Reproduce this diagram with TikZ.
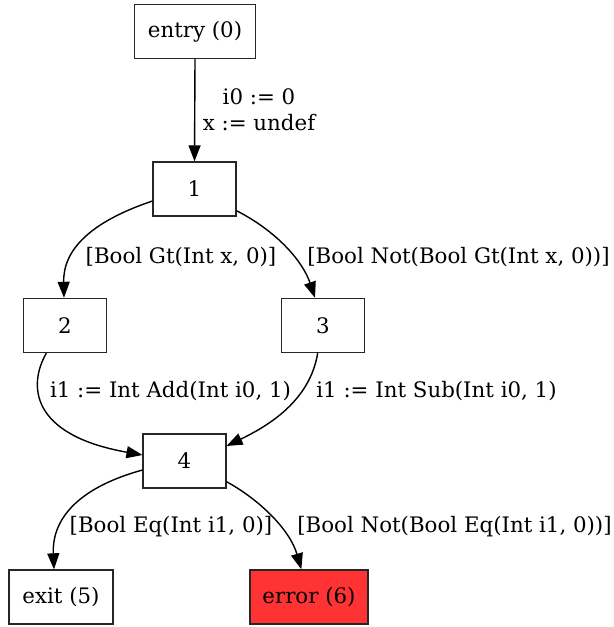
\documentclass[tikz,border=0pt]{standalone}
\usepackage{fontspec}
\setmainfont{DejaVu Serif}
\usetikzlibrary{arrows.meta}
\definecolor{errred}{RGB}{255,51,51}
\begin{document}
\begin{tikzpicture}[x=0.75pt,y=-0.75pt,
  font=\fontsize{16pt}{19.5pt}\selectfont,
  blk/.style={draw=black!85,line width=1.05pt,inner sep=0pt,minimum height=40.5pt,minimum width=62pt},
  lbl/.style={inner sep=0pt,align=center},
  edge/.style={line width=1.05pt,-{Triangle[length=12pt,width=9pt]}}]
\useasboundingbox (0,0) rectangle (613,627);
\node[blk,minimum width=90.75pt] (n0) at (195,31.5) {entry (0)};
\node[blk] (n1) at (194.5,189) {1};
\node[blk] (n2) at (65,325.5) {2};
\node[blk] (n3) at (323,325.5) {3};
\node[blk] (n4) at (184.5,461) {4};
\node[blk,minimum width=78pt] (n5) at (61,597) {exit (5)};
\node[blk,minimum width=88.5pt,fill=errred] (n6) at (309,597) {error (6)};
\draw[edge] (n0.south) -- (n1.north);
\draw[edge] ([yshift=-9pt]n1.west) .. controls (90,222) and (63,250) .. ([xshift=-0.75pt]n2.north);
\draw[edge] ([yshift=4.5pt]n1.south east) .. controls (278,232) and (303,262) .. ([xshift=-6pt]n3.north);
\draw[edge] ([xshift=-14pt]n2.south) .. controls (28,385) and (30,435) .. ([yshift=4.5pt]n4.west);
\draw[edge] ([xshift=-4pt]n3.south) .. controls (310,400) and (270,425) .. ([yshift=11.25pt]n4.east);
\draw[edge] ([yshift=-6.75pt]n4.west) .. controls (70,490) and (52,525) .. ([xshift=-5.25pt]n5.north);
\draw[edge] ([yshift=5.25pt]n4.south east) .. controls (260,500) and (290,530) .. ([xshift=-5.75pt]n6.north);
\node[lbl] (l01) at (259,110) {i0 := 0\\x := undef};
\node[lbl] (l12) at (181,257) {[Bool Gt(Int x, 0)]};
\node[lbl] (l13) at (458.5,257) {[Bool Not(Bool Gt(Int x, 0))]};
\node[lbl] (l24) at (170.5,391) {i1 := Int Add(Int i0, 1)};
\node[lbl] (l34) at (436.5,391) {i1 := Int Sub(Int i0, 1)};
\node[lbl] (l45) at (171,527) {[Bool Eq(Int i1, 0)]};
\node[lbl] (l46) at (454.5,527) {[Bool Not(Bool Eq(Int i1, 0))]};
\end{tikzpicture}
\end{document}
